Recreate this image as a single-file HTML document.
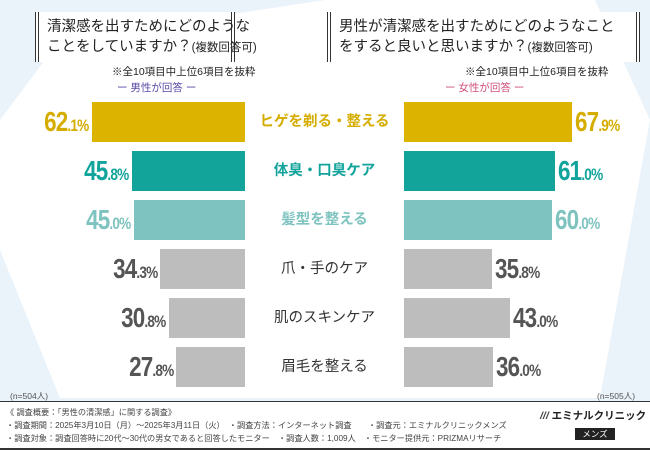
<!DOCTYPE html>
<html><head><meta charset="utf-8"><style>
body{margin:0;width:650px;height:450px;overflow:hidden;font-family:"Liberation Sans","Noto Sans CJK JP",sans-serif;background:#eaf2fa;position:relative}
.abs{position:absolute}
.tbox{position:absolute;background:#fff;border-left:4px double #333;border-right:4px double #333;font-size:14.5px;line-height:20px;color:#222;padding:5px 8px;box-sizing:border-box;white-space:nowrap}
.tbox small{font-size:11.5px}
.val{position:absolute;font-weight:bold;font-size:28px;letter-spacing:-1px;transform:scaleX(0.8);white-space:nowrap;line-height:40px}
.val span{font-size:17px}
.cat{position:absolute;left:245px;width:159px;text-align:center;font-size:14.5px;line-height:40px}
.foot{position:absolute;font-size:8.2px;color:#444;white-space:nowrap}
</style></head><body>
<svg class="abs" style="left:0;top:0" width="650" height="400">
<polygon points="325,0 595,0 650,120 600,398 60,398 0,250 0,120 60,40" fill="#ffffff"/>
</svg>
<div class="tbox" style="left:35px;top:12px;width:200px;height:50px">清潔感を出すためにどのような<br>ことをしていますか？<small>(複数回答可)</small></div>
<div class="tbox" style="left:327px;top:12px;width:313px;height:50px">男性が清潔感を出すためにどのようなこと<br>をすると良いと思いますか？<small>(複数回答可)</small></div>
<div class="abs" style="left:112px;top:64px;font-size:10.5px;color:#222">※全10項目中上位6項目を抜粋</div>
<div class="abs" style="left:117px;top:80px;font-size:10.5px;color:#5a4aa8">ー 男性が回答 ー</div>
<div class="abs" style="left:465px;top:64px;font-size:10.5px;color:#222">※全10項目中上位6項目を抜粋</div>
<div class="abs" style="left:445px;top:80px;font-size:10.5px;color:#d0507a">ー 女性が回答 ー</div>
<div id="chart"></div>
<div class="abs" style="left:10px;top:390px;font-size:8.5px;color:#555">(n=504人)</div>
<div class="abs" style="left:597px;top:390px;font-size:8.5px;color:#555">(n=505人)</div>
<div class="abs" style="left:0;top:401px;width:650px;height:49px;background:#fff;border-top:1px solid #333;border-bottom:2px solid #333;box-sizing:border-box"></div>
<div class="foot" style="left:6px;top:406px">《 調査概要：「男性の清潔感」に関する調査》</div>
<div class="foot" style="left:6px;top:419px">・調査期間：2025年3月10日（月）～2025年3月11日（火）　・調査方法：インターネット調査　　・調査元：エミナルクリニックメンズ</div>
<div class="foot" style="left:6px;top:432px">・調査対象：調査回答時に20代～30代の男女であると回答したモニター　・調査人数：1,009人　・モニター提供元：PRIZMAリサーチ</div>
<div class="abs" style="left:540px;top:408px;font-size:10.5px;font-weight:bold;color:#222;white-space:nowrap"><span style="font-style:italic;color:#444">///</span> エミナルクリニック</div>
<div class="abs" style="left:575px;top:428px;width:40px;height:12px;background:#222;color:#fff;font-size:8.5px;text-align:center;line-height:12px">メンズ</div>
<script>
const categories=["ヒゲを剃る・整える","体臭・口臭ケア","髪型を整える","爪・手のケア","肌のスキンケア","眉毛を整える"];
const maleValues=[62.1,45.8,45.0,34.3,30.8,27.8];
const femaleValues=[67.9,61.0,60.0,35.8,43.0,36.0];
const colors=["#dcb400","#12a39b","#7ec3bf","#bdbdbd","#bdbdbd","#bdbdbd"];
const textColors=["#d5ad00","#12a39b","#7ec3bf","#555","#555","#555"];
const scale=2.47, top0=102, pitch=49, h=40, mid=245, rightStart=404;
const c=document.getElementById('chart');
const yPos=i=>top0+i*pitch;
const wOf=v=>v*scale;
function fmt(v){const s=v.toFixed(1).split('.');return s[0]+'<span>.'+s[1]+'%</span>';}
categories.forEach((cat,i)=>{
  const y=yPos(i);
  const lb=document.createElement('div');lb.className='abs';
  
  
  const lw=wOf(maleValues[i]);
  lb.style.cssText=`left:${mid-lw}px;top:${y}px;width:${lw}px;height:${h}px;background:${colors[i]}`;
  c.appendChild(lb);
  const rb=document.createElement('div');rb.className='abs';
  
  
  const rw=wOf(femaleValues[i]);
  rb.style.cssText=`left:${rightStart}px;top:${y}px;width:${rw}px;height:${h}px;background:${colors[i]}`;
  c.appendChild(rb);
  const lv=document.createElement('div');lv.className='val';
  
  
  lv.innerHTML=fmt(maleValues[i]);
  lv.style.cssText=`right:${650-(mid-lw)+3}px;top:${y}px;color:${textColors[i]};transform-origin:right center`;
  c.appendChild(lv);
  const rv=document.createElement('div');rv.className='val';
  
  
  rv.innerHTML=fmt(femaleValues[i]);
  rv.style.cssText=`left:${rightStart+rw+3}px;top:${y}px;color:${textColors[i]};transform-origin:left center`;
  c.appendChild(rv);
  const cl=document.createElement('div');cl.className='cat';
  
  
  cl.textContent=cat;
  cl.style.cssText=`top:${y}px;color:${i<3?textColors[i]:'#333'};font-weight:${i<3?'bold':'normal'}`;
  c.appendChild(cl);
});
</script>
</body></html>
